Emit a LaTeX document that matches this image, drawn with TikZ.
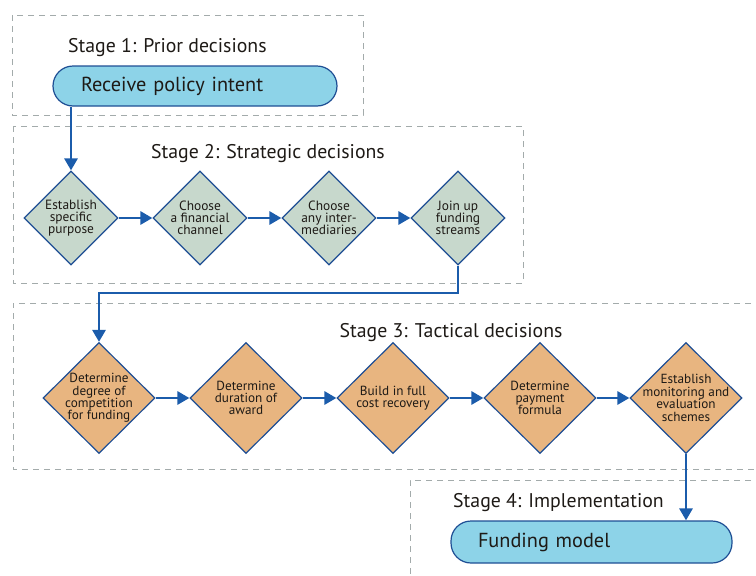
\documentclass[tikz,border=0pt]{standalone}
\usepackage{fontspec}
\setmainfont{PT Sans}
\usetikzlibrary{shapes.geometric,arrows.meta,calc}
\definecolor{pillfill}{HTML}{8DD3E8}
\definecolor{navy}{HTML}{1E4E94}
\definecolor{arrowblue}{HTML}{1B5CAB}
\definecolor{greenfill}{HTML}{C7D8CC}
\definecolor{orangefill}{HTML}{E8B580}
\definecolor{dashgray}{HTML}{A3ABAB}
\definecolor{txt}{HTML}{1E1A16}
\begin{document}
\begin{tikzpicture}[x=1pt,y=-1pt,
  stagebox/.style={draw=dashgray,line width=0.9pt,dash pattern=on 6pt off 5pt},
  pill/.style={draw=navy,line width=1.2pt,fill=pillfill,rounded corners=20pt,inner xsep=28pt,inner ysep=0pt,align=left,text=txt,font=\fontsize{20.3}{22}\selectfont},
  title/.style={font=\fontsize{19.8}{22}\selectfont,inner sep=0pt,text=txt},
  gdia/.style={diamond,draw=navy,line width=1.2pt,fill=greenfill,minimum width=94pt,minimum height=94pt,inner sep=-6pt,align=center,text=txt,font=\fontsize{13.4}{12.3}\selectfont},
  odia/.style={diamond,draw=navy,line width=1.2pt,fill=orangefill,minimum width=112pt,minimum height=111pt,inner sep=-14pt,align=center,text=txt,font=\fontsize{13.2}{12.4}\selectfont},
  flow/.style={draw=arrowblue,line width=2.8pt,-{Triangle[length=12pt,width=13pt]}}
]
\useasboundingbox (0,0) rectangle (756,576);
% stage frames
\draw[stagebox] (12,15) rectangle (363,115);
\draw[stagebox] (13,126) rectangle (523,283);
\draw[stagebox] (762,303) -- (13,303) -- (13,469) -- (762,469);
\draw[stagebox] (762,480) -- (410,480) -- (410,580);

% stage 1
\node[title,anchor=west] (t1) at (68,48) {Stage 1: Prior decisions};
\node[pill,minimum width=284pt,minimum height=40pt,text width=228pt] (rp) at (195,86) {Receive policy intent};

% stage 2
\node[title] (t2) at (268,154) {Stage 2: Strategic decisions};
\node[gdia] (s2a) at (71,218) {Establish\\specific\\purpose};
\node[gdia] (s2b) at (200,218) {Choose\\a financial\\channel};
\node[gdia] (s2c) at (329,218) {Choose\\any inter-\\mediaries};
\node[gdia] (s2d) at (458,218) {Join up\\funding\\streams};

% stage 3
\node[title] (t3) at (451,333) {Stage 3: Tactical decisions};
\node[odia] (s3a) at (99,398) {Determine\\degree of\\competition\\for funding};
\node[odia] (s3b) at (246,398) {Determine\\duration of\\award};
\node[odia] (s3c) at (393,398) {Build in full\\cost recovery};
\node[odia] (s3d) at (540,398) {Determine\\payment\\formula};
\node[odia] (s3e) at (686,398) {Establish\\monitoring and\\evaluation\\schemes};

% stage 4
\node[title,anchor=west] (t4) at (453,503) {Stage 4: Implementation};
\node[pill,minimum width=281pt,minimum height=42pt,text width=227pt,inner xsep=27pt] (fm) at (591.5,542) {Funding model};

% connectors
\draw[flow] (rp.south -| s2a.north) -- (s2a.north);
\draw[flow] (s2a.east) -- (s2b.west);
\draw[flow] (s2b.east) -- (s2c.west);
\draw[flow] (s2c.east) -- (s2d.west);
\coordinate (k1) at (458,293);
\draw[flow] (s2d.south) -- (k1) -| (s3a.north);
\draw[flow] (s3a.east) -- (s3b.west);
\draw[flow] (s3b.east) -- (s3c.west);
\draw[flow] (s3c.east) -- (s3d.west);
\draw[flow] (s3d.east) -- (s3e.west);
\draw[flow] (s3e.south) -- (fm.north -| s3e.south);
\end{tikzpicture}
\end{document}
